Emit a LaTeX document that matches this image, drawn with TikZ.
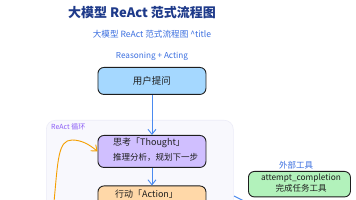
\documentclass[tikz,border=0pt]{standalone}
\usepackage{fontspec}
\setmainfont{Noto Sans CJK SC}
\usetikzlibrary{arrows.meta}
\definecolor{titleblue}{HTML}{1E3A8A}
\definecolor{subblue}{HTML}{3B6FE0}
\definecolor{arrblue}{HTML}{4A8AF0}
\definecolor{loopviolet}{HTML}{8B5CF6}
\definecolor{userfill}{HTML}{A5D8FF}
\definecolor{thoughtfill}{HTML}{D0BFFF}
\definecolor{actionfill}{HTML}{FFD8A8}
\definecolor{toolfill}{HTML}{B2F2BB}
\definecolor{loopfill}{HTML}{F8F8FD}
\definecolor{loopline}{HTML}{ECECF8}
\definecolor{edgedark}{HTML}{1E1E1E}
\definecolor{looporange}{HTML}{F59F00}
\begin{document}
\begin{tikzpicture}[x=1pt,y=-1pt,
  box/.style={draw=edgedark,line width=0.9pt,rounded corners=6pt,inner sep=0pt},
  txt/.style={inner sep=0pt,font=\fontsize{8.5}{10}\selectfont,text=edgedark},
  arr/.style={draw=arrblue,line width=0.9pt,-{Straight Barb[length=5pt,width=8pt]}},
  orarr/.style={draw=looporange,line width=0.9pt,-{Straight Barb[length=5pt,width=8pt]}}]
\useasboundingbox (0,0) rectangle (356,200);
\fill[white] (0,0) rectangle (356,200);
% titles
\node[inner sep=0pt,text=titleblue,font=\fontsize{13}{15}\selectfont\bfseries] (title) at (142,13) {大模型 ReAct 范式流程图};
\node[inner sep=0pt,text=subblue,font=\fontsize{8.6}{10}\selectfont] (subtitle) at (152,34) {大模型 ReAct 范式流程图 \^{}title};
\node[inner sep=0pt,text=subblue,font=\fontsize{8.2}{10}\selectfont] (tagline) at (152,56) {Reasoning + Acting};
% loop container
\node[draw=loopline,fill=loopfill,line width=0.6pt,rounded corners=9pt,inner sep=0pt,minimum width=187pt,minimum height=100pt,anchor=north west] (loop) at (46,120) {};
\node[inner sep=0pt,anchor=west,text=loopviolet,font=\fontsize{7}{8}\selectfont] (looplabel) at (51,127) {ReAct 循环};
% boxes
\node[box,fill=userfill,minimum width=108pt,minimum height=27pt,anchor=north west] (user) at (97.5,67) {};
\node[txt,font=\fontsize{9.5}{11}\selectfont] (usertext) at (user.center) {用户提问};
\node[box,fill=thoughtfill,minimum width=108pt,minimum height=32pt,anchor=north west] (thought) at (97.5,135) {};
\node[txt,anchor=west,font=\fontsize{9}{11}\selectfont] (thought1) at (113,142.5) {思考「Thought」};
\node[txt,anchor=west] (thought2) at (113,157) {推理分析，规划下一步};
\node[box,fill=actionfill,minimum width=108pt,minimum height=30pt,anchor=north west] (action) at (97.5,185.5) {};
\node[txt,anchor=west,font=\fontsize{9}{11}\selectfont] (action1) at (115,194) {行动「Action」};
% external tool
\node[inner sep=0pt,text=subblue,font=\fontsize{8.5}{10}\selectfont] (toollabel) at (296,165) {外部工具};
\node[box,fill=toolfill,minimum width=102pt,minimum height=25.5pt,anchor=north west] (tool) at (248,171) {};
\node[txt,font=\fontsize{8.3}{10}\selectfont] (tool1) at (301,178.5) {attempt\_completion};
\node[txt] (tool2) at (301,188.5) {完成任务工具};
% connectors
\draw[arr] (user.south) -- (thought.north);
\draw[arr] (thought.south) -- (action.north);
\coordinate (loopstart) at (54,202);
\draw[orarr] (loopstart) .. controls (58,160) and (58,140) .. (72,140) .. controls (82,140) and (90,145) .. (thought.west);
\coordinate (tlinea) at (234,196);
\coordinate (tlineb) at (244,201);
\draw[draw=arrblue,line width=0.9pt] (tlinea) -- (tlineb);
\end{tikzpicture}
\end{document}
